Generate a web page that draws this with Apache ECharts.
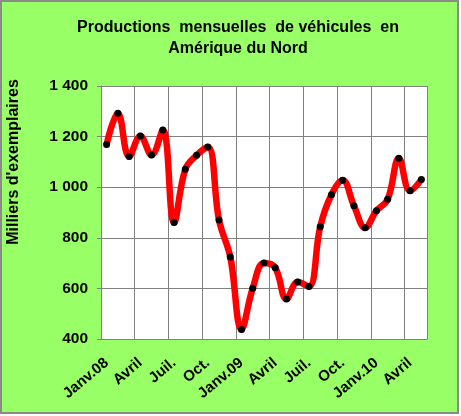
<!DOCTYPE html>
<html>
<head>
<meta charset="utf-8">
<script src="https://cdn.jsdelivr.net/npm/echarts@6/dist/echarts.min.js"></script>
<style>
  html, body { margin: 0; padding: 0; background: #fff; }
  .wrap { position: relative; width: 461px; height: 416px; }
  .frame {
    position: absolute; left: 0; top: 0;
    width: 455px; height: 410px;
    border: 2px solid #8a8a8a;
    background: #99ff66;
  }
  #chart { position: absolute; left: 0; top: 0; width: 461px; height: 416px; }
</style>
</head>
<body>
<div class="wrap">
  <div class="frame"></div>
  <div id="chart"></div>
</div>
<script>
// mois de janv. 2008 à mai 2010
const months = [
  'Janv.08', 'Févr.', 'Mars', 'Avril', 'Mai', 'Juin', 'Juil.', 'Août', 'Sept.', 'Oct.', 'Nov.', 'Déc.',
  'Janv.09', 'Févr.', 'Mars', 'Avril', 'Mai', 'Juin', 'Juil.', 'Août', 'Sept.', 'Oct.', 'Nov.', 'Déc.',
  'Janv.10', 'Févr.', 'Mars', 'Avril', 'Mai'
]
// milliers d'exemplaires
const production = [
  1169, 1292, 1121, 1202, 1127, 1226, 860, 1071, 1126, 1159, 870, 724,
  438, 601, 700, 682, 558, 625, 608, 844, 970, 1027, 927, 840,
  907, 952, 1114, 986, 1030
]
const yTicks = [400, 600, 800, 1000, 1200, 1400]

const font = 'Liberation Sans, Arial, sans-serif'
const grey = '#808080'

const chart = echarts.init(document.getElementById('chart'))

const option = {
  backgroundColor: 'transparent',
  animation: false,
  graphic: [
    {
      type: 'text',
      x: 238,
      y: 38,
      style: {
        text: 'Productions  mensuelles  de véhicules  en\nAmérique du Nord',
        font: 'bold 16px ' + font,
        fill: '#000',
        align: 'center',
        verticalAlign: 'middle',
        lineHeight: 21
      }
    },
    {
      type: 'text',
      x: 14,
      y: 162,
      rotation: Math.PI / 2,
      style: {
        text: "Milliers d'exemplaires",
        font: 'bold 16px ' + font,
        fill: '#000',
        align: 'center',
        verticalAlign: 'middle'
      }
    }
  ],
  grid: {
    left: 101,
    top: 86,
    right: 34,
    bottom: 77,
    show: true,
    backgroundColor: '#fff',
    borderWidth: 0
  },
  xAxis: {
    type: 'category',
    data: months,
    boundaryGap: true,
    axisLine: { lineStyle: { color: grey, width: 1 } },
    axisTick: { interval: 2, length: 4, lineStyle: { color: grey } },
    splitLine: { show: true, interval: 2, lineStyle: { color: grey, width: 1 } },
    axisLabel: {
      interval: 2,
      rotate: 40,
      margin: 22,
      color: '#000',
      fontSize: 15,
      fontWeight: 'bold',
      fontFamily: font
    }
  },
  yAxis: {
    type: 'value',
    min: yTicks[0],
    max: yTicks[yTicks.length - 1],
    interval: 200,
    axisLine: { show: true, lineStyle: { color: grey, width: 1 } },
    axisTick: { show: true, length: 4, lineStyle: { color: grey } },
    splitLine: { lineStyle: { color: grey, width: 1 } },
    axisLabel: {
      margin: 13,
      color: '#000',
      fontSize: 15.5,
      fontWeight: 'bold',
      fontFamily: font,
      formatter: v => v >= 1000 ? Math.floor(v / 1000) + ' ' + String(v % 1000).padStart(3, '0') : String(v)
    }
  },
  series: [
    {
      type: 'line',
      data: production,
      smooth: 0.4,
      lineStyle: { color: '#ff0000', width: 6.5 },
      symbol: 'circle',
      symbolSize: 7,
      showAllSymbol: true,
      itemStyle: { color: '#000', borderWidth: 0 }
    }
  ]
}

chart.setOption(option)
</script>
</body>
</html>
